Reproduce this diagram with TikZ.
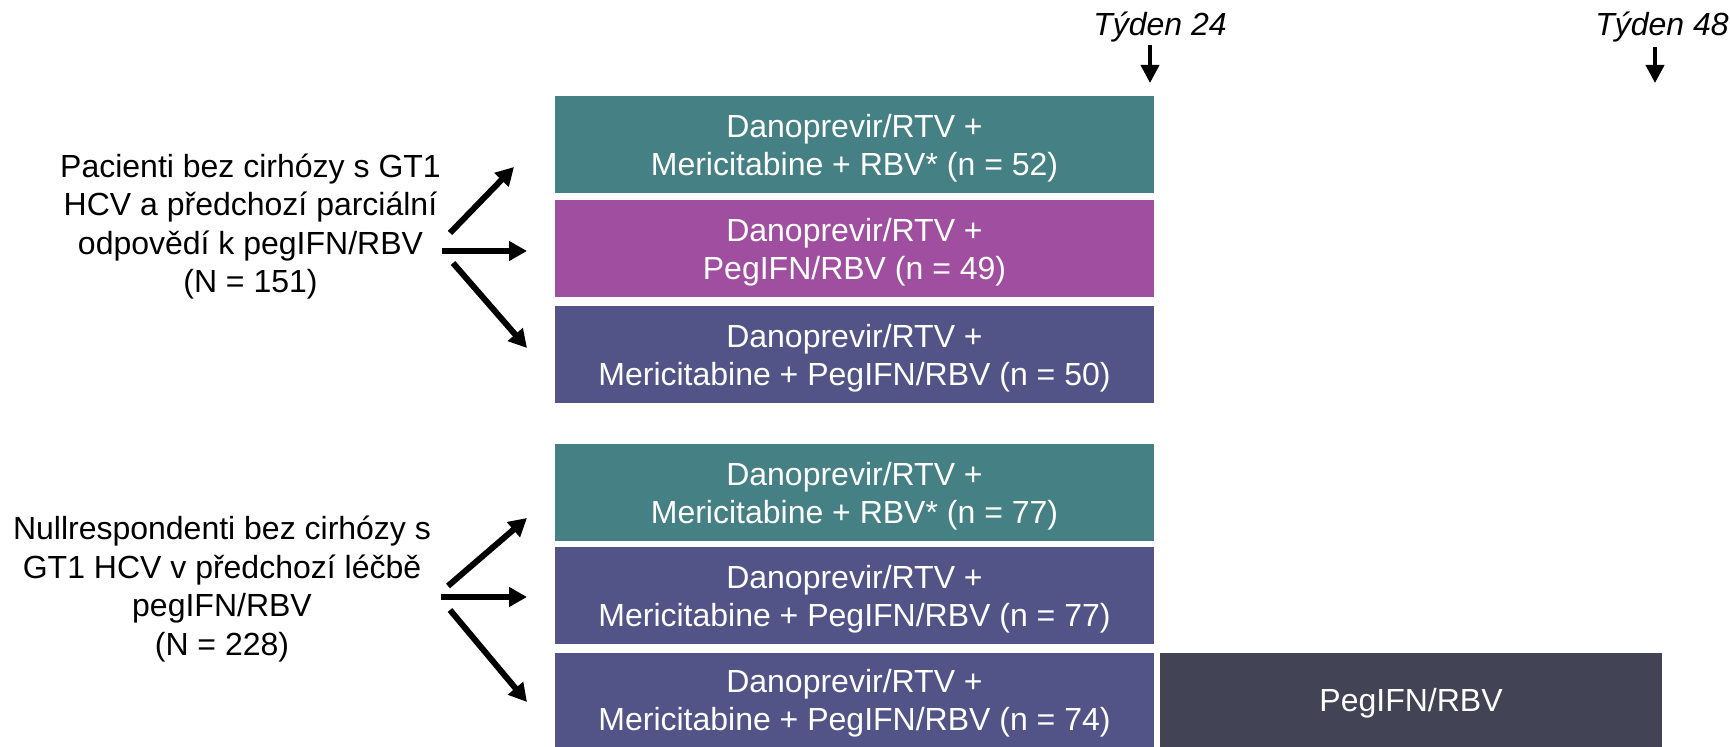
\documentclass[tikz,border=0pt]{standalone}
\usepackage{fontspec}
\setmainfont{Liberation Sans}
\usetikzlibrary{arrows.meta}
\definecolor{cteal}{HTML}{458084}
\definecolor{cpurple}{HTML}{A04FA0}
\definecolor{cindigo}{HTML}{525487}
\definecolor{cdark}{HTML}{434356}
\newcommand\topstrut{\rule{0pt}{0.93em}}
\begin{document}
\begin{tikzpicture}[x=0.5pt,y=-0.5pt,
  arm/.style={rectangle, inner sep=0pt, minimum width=299.5pt, minimum height=48.5pt,
    text=white, align=center, font=\fontsize{16}{19}\selectfont},
  grouptext/.style={align=center, inner sep=0pt, font=\fontsize{16}{19.2}\selectfont},
  branch/.style={line width=3pt, -{Triangle[length=9pt,width=9.5pt]}},
  weeklabel/.style={inner sep=0pt, anchor=base, font=\fontsize{16}{19}\selectfont\itshape},
  weekarrow/.style={line width=2pt, -{Triangle[length=9pt,width=9pt]}}
]
\useasboundingbox (0,0) rectangle (1730,747);

% treatment boxes
\node[arm, fill=cteal]   (b1) at (854.5,144.5) {\topstrut Danoprevir/RTV +\\Mericitabine + RBV* (n = 52)};
\node[arm, fill=cpurple] (b2) at (854.5,248.5) {\topstrut Danoprevir/RTV +\\PegIFN/RBV (n = 49)};
\node[arm, fill=cindigo] (b3) at (854.5,355)   {\topstrut Danoprevir/RTV +\\Mericitabine + PegIFN/RBV (n = 50)};
\node[arm, fill=cteal]   (b4) at (854.5,492.5) {\topstrut Danoprevir/RTV +\\Mericitabine + RBV* (n = 77)};
\node[arm, fill=cindigo] (b5) at (854.5,596)   {\topstrut Danoprevir/RTV +\\Mericitabine + PegIFN/RBV (n = 77)};
\node[arm, fill=cindigo, minimum height=47pt] (b6) at (854.5,700) {\topstrut Danoprevir/RTV +\\Mericitabine + PegIFN/RBV (n = 74)};
\node[arm, fill=cdark, minimum width=251pt, minimum height=47pt, text depth=0pt] (peg) at (1411,700) {PegIFN/RBV};

% group texts
\node[grouptext] (g1) at (250.5,226.5) {Pacienti bez cirhózy s GT1\\HCV a předchozí parciální\\odpovědí k pegIFN/RBV\\(N = 151)};
\node[grouptext] (g2) at (222,589) {Nullrespondenti bez cirhózy s\\GT1 HCV v předchozí léčbě\\pegIFN/RBV\\(N = 228)};

% week labels
\node[weeklabel] (w24) at (1160,36) {Týden 24};
\node[weeklabel] (w48) at (1662,36) {Týden 48};
\coordinate (w24a) at (1150,45);
\coordinate (w24b) at (1150,83);
\coordinate (w48a) at (1655,47);
\coordinate (w48b) at (1655,83);
\draw[weekarrow] (w24a) -- (w24b);
\draw[weekarrow] (w48a) -- (w48b);

% branch arrows group 1
\coordinate (g1us) at (450,233);
\coordinate (g1ue) at (514,167);
\coordinate (g1ms) at (442,251);
\coordinate (g1me) at (527,251);
\coordinate (g1ls) at (453,263);
\coordinate (g1le) at (527,348);
\draw[branch] (g1us) -- (g1ue);
\draw[branch] (g1ms) -- (g1me);
\draw[branch] (g1ls) -- (g1le);

% branch arrows group 2
\coordinate (g2us) at (448,586);
\coordinate (g2ue) at (527,518);
\coordinate (g2ms) at (441,597);
\coordinate (g2me) at (527,597);
\coordinate (g2ls) at (450,610);
\coordinate (g2le) at (527,702);
\draw[branch] (g2us) -- (g2ue);
\draw[branch] (g2ms) -- (g2me);
\draw[branch] (g2ls) -- (g2le);
\end{tikzpicture}
\end{document}
